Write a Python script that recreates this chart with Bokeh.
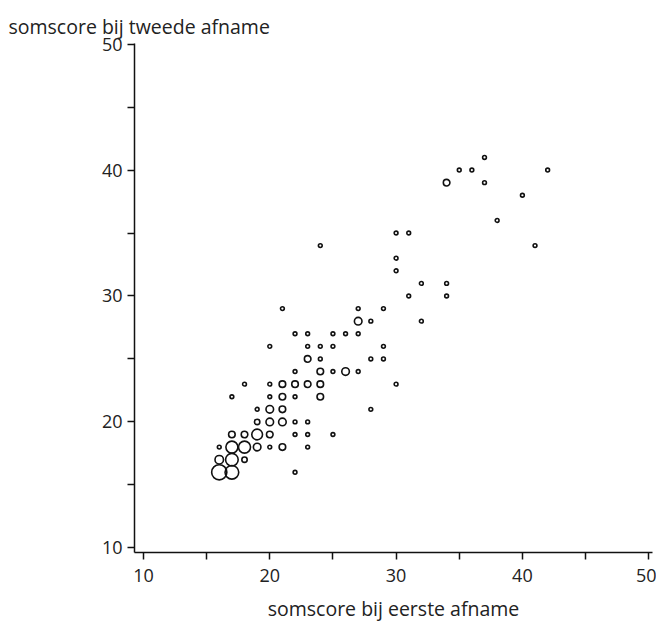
import numpy as np
from bokeh.plotting import figure
from bokeh.models import Range1d, FixedTicker, ColumnDataSource
from bokeh.embed import file_html
from bokeh.resources import INLINE

# somscore bij eerste afname (x), tweede afname (y), aantal personen (n)
first = [16, 17, 22,
         16, 17, 18,
         16, 17, 18, 19, 20, 21, 23,
         17, 18, 19, 20, 22, 23, 25,
         19, 20, 21, 22, 23,
         19, 20, 21, 28,
         17, 20, 21, 22, 24,
         18, 20, 21, 22, 23, 24, 30,
         22, 24, 25, 26, 27,
         23, 24, 28, 29,
         20, 23, 24, 25, 29,
         22, 23, 25, 26, 27,
         27, 28, 32,
         21, 27, 29,
         31, 34,
         32, 34,
         30, 30,
         24, 41,
         30, 31,
         38, 40,
         34, 37,
         35, 36, 42,
         37]
second = [16, 16, 16,
          17, 17, 17,
          18, 18, 18, 18, 18, 18, 18,
          19, 19, 19, 19, 19, 19, 19,
          20, 20, 20, 20, 20,
          21, 21, 21, 21,
          22, 22, 22, 22, 22,
          23, 23, 23, 23, 23, 23, 23,
          24, 24, 24, 24, 24,
          25, 25, 25, 25,
          26, 26, 26, 26, 26,
          27, 27, 27, 27, 27,
          28, 28, 28,
          29, 29, 29,
          30, 30,
          31, 31,
          32, 33,
          34, 34,
          35, 35,
          36, 38,
          39, 39,
          40, 40, 40,
          41]
count = [16, 13, 1,
         5, 11, 2,
         1, 10, 10, 4, 1, 3, 1,
         3, 3, 8, 3, 1, 1, 1,
         2, 4, 4, 1, 1,
         1, 4, 3, 1,
         1, 1, 3, 1, 3,
         1, 1, 3, 3, 3, 3, 1,
         1, 3, 1, 4, 1,
         3, 1, 1, 1,
         1, 1, 1, 1, 1,
         1, 1, 1, 1, 1,
         4, 1, 1,
         1, 1, 1,
         1, 1,
         1, 1,
         1, 1,
         1, 1,
         1, 1,
         1, 1,
         3, 1,
         1, 1, 1,
         1]

major_ticks = [10, 20, 30, 40, 50]
minor_ticks = [15, 25, 35, 45]

src = ColumnDataSource(dict(x=first, y=second, n=count,
                            size=[3.8 * np.sqrt(c) for c in count]))

FONT = "Open Sans"
TXT = "#222222"

p = figure(width=656, height=624, output_backend="svg", toolbar_location=None,
           x_range=Range1d(9.29, 50.3), y_range=Range1d(9.63, 50.05),
           min_border_left=134, min_border_right=4, min_border_top=43,
           min_border_bottom=72)
p.outline_line_color = None
p.grid.visible = False
p.background_fill_color = "white"
p.border_fill_color = "white"

p.scatter("x", "y", size="size", source=src, marker="circle",
          fill_color=None, line_color="#111111", line_width=1.6)

for ax in (p.xaxis[0], p.yaxis[0]):
    ax.ticker = FixedTicker(ticks=major_ticks, minor_ticks=minor_ticks)
    ax.axis_line_color = "#111111"
    ax.axis_line_width = 1.5
    ax.major_tick_line_color = "#111111"
    ax.minor_tick_line_color = "#111111"
    ax.major_tick_line_width = 1.5
    ax.minor_tick_line_width = 1.5
    ax.major_tick_in = 0
    ax.major_tick_out = 7
    ax.minor_tick_in = 0
    ax.minor_tick_out = 7
    ax.major_label_text_font = FONT
    ax.major_label_text_font_size = "18px"
    ax.major_label_text_color = TXT
    ax.axis_label_text_font = FONT
    ax.axis_label_text_font_size = "19.5px"
    ax.axis_label_text_font_style = "normal"
    ax.axis_label_text_color = TXT

p.yaxis.major_label_standoff = 5
p.yaxis.major_label_orientation = "horizontal"
p.xaxis.major_label_standoff = 9
p.xaxis.axis_label = "somscore bij eerste afname"
p.xaxis.axis_label_standoff = 10

p.title.text = "somscore bij tweede afname"
p.title.align = "left"
p.title.offset = -126
p.title.text_font = FONT
p.title.text_font_size = "19.5px"
p.title.text_font_style = "normal"
p.title.text_color = TXT
p.title.standoff = 8

open("out.html", "w").write(file_html(p, INLINE))
